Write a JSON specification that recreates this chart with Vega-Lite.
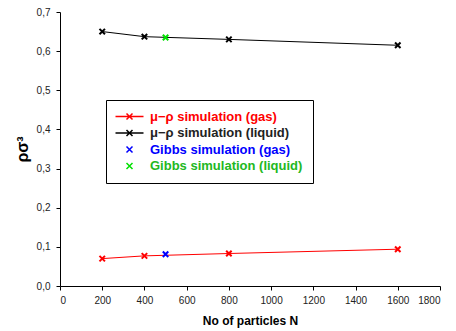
{
  "$schema": "https://vega.github.io/schema/vega-lite/v6.json",
  "width": 380,
  "height": 274,
  "autosize": {"type": "none"},
  "padding": {"left": 60, "top": 12, "right": 16, "bottom": 45},
  "background": "white",
  "config": {"view": {"stroke": null}, "font": "Liberation Sans"},
  "data": {
    "values": [
      {"N": 200, "rho": 0.070, "series": "μ−ρ simulation (gas)", "kind": "sim"},
      {"N": 400, "rho": 0.077, "series": "μ−ρ simulation (gas)", "kind": "sim"},
      {"N": 800, "rho": 0.083, "series": "μ−ρ simulation (gas)", "kind": "sim"},
      {"N": 1600, "rho": 0.094, "series": "μ−ρ simulation (gas)", "kind": "sim"},
      {"N": 200, "rho": 0.650, "series": "μ−ρ simulation (liquid)", "kind": "sim"},
      {"N": 400, "rho": 0.637, "series": "μ−ρ simulation (liquid)", "kind": "sim"},
      {"N": 800, "rho": 0.630, "series": "μ−ρ simulation (liquid)", "kind": "sim"},
      {"N": 1600, "rho": 0.615, "series": "μ−ρ simulation (liquid)", "kind": "sim"},
      {"N": 500, "rho": 0.081, "series": "Gibbs simulation (gas)", "kind": "gibbs"},
      {"N": 500, "rho": 0.635, "series": "Gibbs simulation (liquid)", "kind": "gibbs"}
    ]
  },
  "encoding": {
    "x": {
      "field": "N", "type": "quantitative",
      "scale": {"domain": [0, 1800], "nice": false},
      "axis": {
        "values": [0, 200, 400, 600, 800, 1000, 1200, 1400, 1600, 1800],
        "format": "d",
        "title": "No of particles N", "grid": false,
        "domainColor": "black", "tickColor": "black", "tickSize": 4,
        "labelFontSize": 10, "labelColor": "#222", "labelPadding": 5,
        "titleFontSize": 12, "titleFontWeight": "bold", "titleColor": "black", "titlePadding": 10
      }
    },
    "y": {
      "field": "rho", "type": "quantitative",
      "scale": {"domain": [0, 0.7], "nice": false, "zero": true},
      "axis": {
        "values": [0, 0.1, 0.2, 0.3, 0.4, 0.5, 0.6, 0.7],
        "labelExpr": "replace(format(datum.value, '.1f'), '.', ',')",
        "title": "ρσ³", "grid": false,
        "domainColor": "black", "tickColor": "black", "tickSize": 4,
        "labelFontSize": 10, "labelColor": "#222", "labelPadding": 6,
        "titleFontSize": 16, "titleFontWeight": "bold", "titleColor": "black", "titlePadding": 6
      }
    },
    "color": {
      "field": "series", "type": "nominal",
      "scale": {
        "domain": ["μ−ρ simulation (gas)", "μ−ρ simulation (liquid)", "Gibbs simulation (gas)", "Gibbs simulation (liquid)"],
        "range": ["#ff0000", "#000000", "#0000ff", "#00e000"]
      },
      "legend": {
        "title": null,
        "orient": "none",
        "legendX": 46,
        "legendY": 88,
        "strokeColor": "black",
        "fillColor": "white",
        "padding": 10,
        "symbolType": "M-0.6,-0.6L0.6,0.6M-0.6,0.6L0.6,-0.6",
        "symbolSize": 100,
        "symbolOffset": 7,
        "symbolStrokeWidth": 1.5,
        "labelOffset": 14,
        "labelFontSize": 13,
        "labelFontWeight": "bold",
        "rowPadding": 2.5,
        "encode": {
          "symbols": {
            "update": {
              "shape": {"signal": "indexof(datum.value, 'μ−ρ') == 0 ? 'M-2.8,0L2.8,0M-0.6,-0.6L0.6,0.6M-0.6,0.6L0.6,-0.6' : 'M-0.6,-0.6L0.6,0.6M-0.6,0.6L0.6,-0.6'"}
            }
          },
          "labels": {
            "update": {
              "fill": {"signal": "datum.value == 'μ−ρ simulation (gas)' ? '#ff0000' : datum.value == 'μ−ρ simulation (liquid)' ? '#222222' : datum.value == 'Gibbs simulation (gas)' ? '#0000ff' : '#22b822'"}
            }
          }
        }
      }
    }
  },
  "layer": [
    {
      "transform": [{"filter": "datum.kind == 'sim'"}],
      "mark": {"type": "line", "strokeWidth": 1}
    },
    {
      "mark": {"type": "point", "shape": "M-1,-1L1,1M-1,1L1,-1", "filled": false, "strokeWidth": 2, "size": 30, "opacity": 1}
    }
  ]
}
